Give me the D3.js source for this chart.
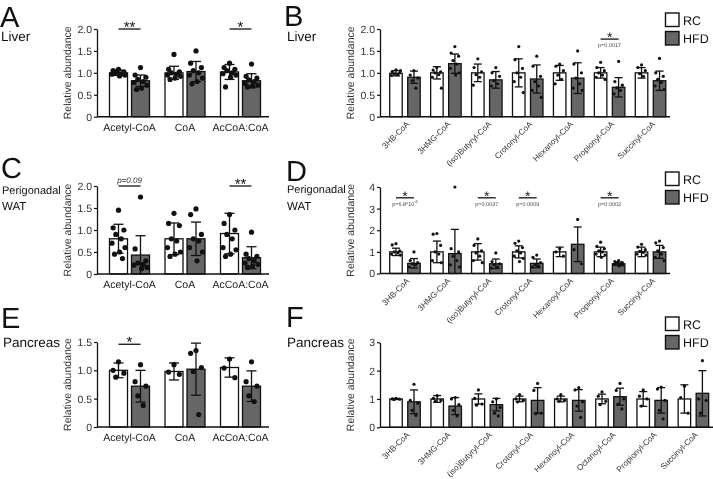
<!DOCTYPE html>
<html><head><meta charset="utf-8">
<script src="https://cdn.jsdelivr.net/npm/d3@7"></script>
<style>
body{margin:0;background:#fff}
svg{display:block;will-change:transform;text-rendering:geometricPrecision}
text{font-family:"Liberation Sans",Arial,Helvetica,sans-serif}
</style>
</head><body>
<svg id="c" width="713" height="479"></svg>
<script>
// ---------------- DATA ----------------
const seriesNames = ["RC", "HFD"];
const catsAC = ["Acetyl-CoA", "CoA", "AcCoA:CoA"];
const catsBD = ["3HB-CoA", "3HMG-CoA", "(iso)Butyryl-CoA", "Crotonyl-CoA", "Hexanoyl-CoA", "Propionyl-CoA", "Succinyl-CoA"];
const catsF = ["3HB-CoA", "3HMG-CoA", "(iso)Butyryl-CoA", "Crotonyl-CoA", "Hexanoyl-CoA", "Octanoyl-CoA", "Propionyl-CoA", "Succinyl-CoA"];

const ticksA = [0, 0.5, 1, 1.5, 2];   const tickLabelsA = ["0", "0.5", "1.0", "1.5", "2.0"];
const ticksB = [0, 0.5, 1, 1.5, 2];   const tickLabelsB = ["0", "0.5", "1.0", "1.5", "2.0"];
const ticksC = [0, 0.5, 1, 1.5, 2];   const tickLabelsC = ["0", "0.5", "1.0", "1.5", "2.0"];
const ticksD = [0, 1, 2, 3, 4];       const tickLabelsD = ["0", "1", "2", "3", "4"];
const ticksE = [0, 0.5, 1, 1.5];      const tickLabelsE = ["0", "0.5", "1.0", "1.5"];
const ticksF = [0, 1, 2, 3];          const tickLabelsF = ["0", "1", "2", "3"];

// Panel A - Liver
const aRcMean = [1.0, 1.0, 1.02];
const aRcSd = [0.06, 0.15, 0.17];
const aHfdMean = [0.82, 1.03, 0.82];
const aHfdSd = [0.13, 0.23, 0.16];
const aRcPts = [[1.08,1.05,1.02,1.0,0.98,0.97,0.95,0.93,1.03],[1.42,1.08,1.02,1.0,0.97,0.95,0.92,0.88,0.85],[1.22,1.12,1.08,1.05,1.0,0.98,0.95,0.9,0.68]];
const aHfdPts = [[1.12,0.95,0.9,0.85,0.8,0.78,0.72,0.65,0.62],[1.5,1.22,1.12,1.05,1.0,0.95,0.88,0.8,0.75],[1.2,0.92,0.88,0.84,0.8,0.76,0.72,0.7,0.68]];
const aSig = [{cat:"Acetyl-CoA", mark:"**", at:2.0, p:""}, {cat:"AcCoA:CoA", mark:"*", at:2.0, p:""}];

// Panel B - Liver
const bRcMean = [0.99, 1.0, 1.0, 1.0, 1.0, 1.0, 1.0];
const bRcSd = [0.06, 0.14, 0.2, 0.32, 0.17, 0.12, 0.12];
const bHfdMean = [0.9, 1.21, 0.84, 0.86, 0.88, 0.67, 0.82];
const bHfdSd = [0.14, 0.22, 0.19, 0.32, 0.35, 0.22, 0.22];
const bRcPts = [[1.07,1.03,1.0,0.98,0.96,0.94,1.05],[1.12,1.06,1.02,1.0,0.96,0.9,0.65],[1.32,1.12,1.02,0.96,0.9,0.72],[1.6,1.3,1.1,1.0,0.9,0.8,0.55],[1.2,1.15,1.05,0.95,0.85,0.75],[1.24,1.12,1.05,1.0,0.95,0.9,0.85],[1.18,1.12,1.05,0.98,0.92]];
const bHfdPts = [[1.05,0.95,0.88,0.82,0.65],[1.6,1.45,1.38,1.28,1.2,1.1,1.0,0.95],[1.12,1.0,0.92,0.82,0.75,0.7],[1.38,1.15,0.92,0.8,0.7,0.6,0.44],[1.5,1.2,1.0,0.88,0.75,0.65,0.6],[1.26,0.8,0.72,0.66,0.6,0.52],[1.33,1.0,0.92,0.85,0.78,0.7,0.62]];
const bSig = [{cat:"Propionyl-CoA", mark:"*", at:1.77, p:"p=0.0017"}];

// Panel C - Perigonadal WAT
const cRcMean = [0.8, 0.8, 0.92];
const cRcSd = [0.33, 0.36, 0.46];
const cHfdMean = [0.43, 0.8, 0.37];
const cHfdSd = [0.44, 0.38, 0.25];
const cRcPts = [[1.45,1.05,1.0,0.9,0.8,0.7,0.6,0.5,0.45,0.35],[1.38,1.15,1.1,0.8,0.75,0.6,0.5,0.45,0.4],[1.35,1.15,1.0,0.9,0.8,0.6,0.55,0.45,0.4]];
const cHfdPts = [[1.75,0.57,0.3,0.25,0.22,0.2,0.15,0.12],[1.48,1.35,0.9,0.8,0.75,0.6,0.5,0.3],[0.95,0.45,0.4,0.35,0.3,0.25,0.22,0.18,0.15]];
const cSig = [{cat:"Acetyl-CoA", mark:"", at:2.0, p:"p=0.09", italic:true}, {cat:"AcCoA:CoA", mark:"**", at:2.0, p:""}];

// Panel D - Perigonadal WAT
const dRcMean = [1.0, 1.0, 1.0, 1.0, 1.0, 1.0, 1.0];
const dRcSd = [0.17, 0.5, 0.38, 0.28, 0.22, 0.22, 0.22];
const dHfdMean = [0.47, 0.92, 0.45, 0.47, 1.35, 0.45, 1.0];
const dHfdSd = [0.22, 1.12, 0.22, 0.2, 0.8, 0.08, 0.3];
const dRcPts = [[1.38,1.32,1.05,1.0,0.95,0.9,0.85],[1.85,1.82,1.3,1.0,0.9,0.6,0.5],[1.6,1.3,1.05,0.95,0.8,0.6,0.5],[1.5,1.4,1.2,1.05,0.95,0.8,0.7,0.55],[1.15,1.0,0.8],[1.45,1.25,1.15,1.05,1.0,0.9,0.85,0.75],[1.35,1.22,1.1,1.02,0.98,0.9,0.85]];
const dHfdPts = [[1.0,0.6,0.5,0.45,0.4,0.3],[4.0,1.15,1.0,0.8,0.6,0.4,0.3],[0.95,0.55,0.45,0.4,0.3,0.25],[0.85,0.75,0.5,0.4,0.35,0.3],[2.5,1.1,0.45],[0.6,0.55,0.5,0.48,0.45,0.42,0.4,0.35],[1.5,1.42,1.2,1.05,0.9,0.75,0.6]];
const dSig = [{cat:"3HB-CoA", mark:"*", at:3.5, p:"p=6.8*10", sup:"-6"}, {cat:"(iso)Butyryl-CoA", mark:"*", at:3.5, p:"p=0.0037"}, {cat:"Crotonyl-CoA", mark:"*", at:3.5, p:"p=0.0009"}, {cat:"Propionyl-CoA", mark:"*", at:3.5, p:"p=0.0002"}];

// Panel E - Pancreas
const eRcMean = [1.0, 0.98, 1.05];
const eRcSd = [0.13, 0.15, 0.17];
const eHfdMean = [0.72, 1.02, 0.72];
const eHfdSd = [0.28, 0.46, 0.27];
const eRcPts = [[1.15,1.0,0.95,0.88],[1.1,0.97,0.93],[1.2,1.04,0.87]];
const eHfdPts = [[1.1,0.8,0.72,0.55,0.38],[1.35,1.3,1.05,0.98,0.22],[1.15,0.8,0.72,0.55,0.45]];
const eSig = [{cat:"Acetyl-CoA", mark:"*", at:1.46, p:""}];

// Panel F - Pancreas
const fRcMean = [1.0, 1.0, 1.0, 1.0, 1.0, 1.0, 1.0, 1.0];
const fRcSd = [0.02, 0.12, 0.18, 0.1, 0.1, 0.17, 0.26, 0.5];
const fHfdMean = [0.9, 0.75, 0.8, 0.95, 0.95, 1.08, 0.95, 1.2];
const fHfdSd = [0.42, 0.3, 0.22, 0.45, 0.38, 0.3, 0.45, 0.8];
const fRcPts = [[1.02,1.0,0.99,0.98],[1.12,1.02,0.95,0.92],[1.32,1.02,0.82,0.78],[1.15,1.0,0.95,0.9],[1.15,1.0,0.95,0.92],[1.25,1.1,0.92,0.8],[1.32,1.1,1.0,0.75],[1.45,1.05,0.5]];
const fHfdPts = [[1.52,0.95,0.85,0.6,0.42],[1.05,1.0,0.8,0.6,0.4],[1.0,0.9,0.7,0.5,0.4],[1.55,1.3,0.5,0.48],[1.4,1.32,0.9,0.75,0.35],[1.55,1.3,1.0,0.82,0.65],[1.42,1.35,0.95,0.6,0.3],[2.35,1.0,0.95,0.5]];
const fSig = [];

// ---------------- DRAW ----------------
const svg = d3.select("#c");
const HFD_FILL = "#666666";
const jit = [0, -0.3, 0.3, -0.15, 0.15, -0.36, 0.36, 0.06, -0.22, 0.22];
const FONT = '"Liberation Sans",Arial,sans-serif';

function panel(cfg) {
  const g = svg.append("g");
  const x = d3.scaleBand().domain(cfg.cats).range(cfg.xr).padding(0);
  const y = d3.scaleLinear().domain([0, cfg.ticks[cfg.ticks.length - 1]]).range([cfg.y0, cfg.y1]);
  const bw = cfg.bw, gap = cfg.gap;
  const series = [
    {mean: cfg.rcMean, sd: cfg.rcSd, pts: cfg.rcPts, fill: "#fff", side: -1},
    {mean: cfg.hfdMean, sd: cfg.hfdSd, pts: cfg.hfdPts, fill: HFD_FILL, side: 1}
  ];
  cfg.cats.forEach((c, i) => {
    const cx = x(c) + x.bandwidth() / 2;
    series.forEach(s => {
      const x0 = s.side < 0 ? cx - gap / 2 - bw : cx + gap / 2;
      const bc = x0 + bw / 2;
      const m = s.mean[i];
      g.append("rect").attr("x", x0).attr("y", y(m)).attr("width", bw).attr("height", y(0) - y(m))
        .attr("fill", s.fill).attr("stroke", "#111").attr("stroke-width", 1.3);
      const lo = Math.max(0, m - s.sd[i]), hi = m + s.sd[i];
      g.append("line").attr("x1", bc).attr("x2", bc).attr("y1", y(lo)).attr("y2", y(hi)).attr("stroke", "#111").attr("stroke-width", 1.3);
      [lo, hi].forEach(v => {
        if (v <= 0) return;
        g.append("line").attr("x1", bc - cfg.cap / 2).attr("x2", bc + cfg.cap / 2).attr("y1", y(v)).attr("y2", y(v)).attr("stroke", "#111").attr("stroke-width", 1.3);
      });
      s.pts[i].forEach((v, k) => {
        g.append("circle").attr("cx", bc + jit[k % jit.length] * bw).attr("cy", y(v)).attr("r", cfg.r).attr("fill", "#111");
      });
    });
  });
  // y axis
  const ya = d3.axisLeft(y).tickValues(cfg.ticks).tickSize(3).tickSizeOuter(0).tickPadding(2)
    .tickFormat((d, i) => cfg.tickLabels[i]);
  const yg = g.append("g").attr("transform", `translate(${cfg.ax},0)`).call(ya);
  yg.select(".domain").attr("stroke", "#111").attr("stroke-width", 1.3);
  yg.selectAll(".tick line").attr("stroke", "#111").attr("stroke-width", 1.2);
  yg.selectAll(".tick text").attr("font-size", 10.5).attr("fill", "#333").style("font-family", FONT);
  // x axis line
  g.append("line").attr("x1", cfg.ax).attr("x2", cfg.xEnd).attr("y1", y(0)).attr("y2", y(0)).attr("stroke", "#111").attr("stroke-width", 1.5);
  // category labels
  const xa = d3.axisBottom(x).tickSize(0).tickPadding(0);
  const xg = g.append("g").attr("transform", `translate(0,${y(0)})`).call(xa);
  xg.select(".domain").remove();
  if (cfg.rotate) {
    xg.selectAll(".tick text").attr("font-size", 8.2).attr("fill", "#333").attr("text-anchor", "end")
      .attr("y", 0).attr("dy", 0)
      .attr("transform", "translate(5,8) rotate(-45)")
      .style("font-family", FONT);
  } else {
    xg.selectAll(".tick text").attr("font-size", 10.5).attr("fill", "#222").attr("y", 14).attr("dy", 0)
      .style("font-family", FONT);
  }
  // y label
  g.append("text").attr("transform", `translate(${cfg.ax - 26},${(y(0) + y(cfg.ticks[cfg.ticks.length-1])) / 2}) rotate(-90)`)
    .attr("text-anchor", "middle").attr("font-size", 10.5).attr("fill", "#333").text("Relative abundance");
  // significance
  cfg.sig.forEach(s => {
    const cx = x(s.cat) + x.bandwidth() / 2;
    const x1 = cx - gap / 2 - bw / 2, x2 = cx + gap / 2 + bw / 2;
    const ly = y(s.at);
    g.append("line").attr("x1", x1).attr("x2", x2).attr("y1", ly).attr("y2", ly).attr("stroke", "#111").attr("stroke-width", 1.3);
    if (s.mark) {
      g.append("text").attr("x", cx).attr("y", ly + 3).attr("text-anchor", "middle").attr("font-size", cfg.starSize).attr("fill", "#111").text(s.mark);
    }
    if (s.p) {
      if (s.italic) {
        g.append("text").attr("x", cx).attr("y", ly - 3).attr("text-anchor", "middle").attr("font-size", 8).attr("font-style", "italic").attr("fill", "#333").text(s.p);
      } else {
        const t = g.append("text").attr("x", cx).attr("y", ly + 8).attr("text-anchor", "middle").attr("font-size", 5.5).attr("fill", "#444").text(s.p);
        if (s.sup) t.append("tspan").attr("dy", -2.5).attr("font-size", 3.8).text(s.sup);
      }
    }
  });
  // legend
  if (cfg.legendY !== undefined) {
    seriesNames.forEach((n, k) => {
      const ty = cfg.legendY + k * 18.5;
      g.append("rect").attr("x", 665.5).attr("y", ty).attr("width", 13.5).attr("height", 13.5)
        .attr("fill", k === 0 ? "#fff" : HFD_FILL).attr("stroke", "#111").attr("stroke-width", 1.4);
      g.append("text").attr("x", 683).attr("y", ty + 11.5).attr("font-size", 12.5).attr("fill", "#111").text(n);
    });
  }
}

const L = {bw: 18, gap: 4, cap: 10, r: 2.6, starSize: 15, rotate: false, ax: 97};
const R = {bw: 12.5, gap: 5.5, cap: 8, r: 1.6, starSize: 14, rotate: true, ax: 380};

panel(Object.assign({}, L, {cats: catsAC, xr: [101.75, 268.25], xEnd: 269, y0: 116.7, y1: 29, ticks: ticksA, tickLabels: tickLabelsA,
  rcMean: aRcMean, rcSd: aRcSd, hfdMean: aHfdMean, hfdSd: aHfdSd, rcPts: aRcPts, hfdPts: aHfdPts, sig: aSig}));
panel(Object.assign({}, R, {cats: catsBD, xr: [384.5, 671], xEnd: 670, y0: 116.7, y1: 29, ticks: ticksB, tickLabels: tickLabelsB,
  rcMean: bRcMean, rcSd: bRcSd, hfdMean: bHfdMean, hfdSd: bHfdSd, rcPts: bRcPts, hfdPts: bHfdPts, sig: bSig, legendY: 13}));
panel(Object.assign({}, L, {cats: catsAC, xr: [101.75, 268.25], xEnd: 269, y0: 274, y1: 186, ticks: ticksC, tickLabels: tickLabelsC,
  rcMean: cRcMean, rcSd: cRcSd, hfdMean: cHfdMean, hfdSd: cHfdSd, rcPts: cRcPts, hfdPts: cHfdPts, sig: cSig}));
panel(Object.assign({}, R, {cats: catsBD, xr: [384.5, 671], xEnd: 670, y0: 273.5, y1: 187, ticks: ticksD, tickLabels: tickLabelsD,
  rcMean: dRcMean, rcSd: dRcSd, hfdMean: dHfdMean, hfdSd: dHfdSd, rcPts: dRcPts, hfdPts: dHfdPts, sig: dSig, legendY: 172}));
panel(Object.assign({}, L, {cats: catsAC, xr: [101.75, 268.25], xEnd: 269, y0: 427, y1: 342, ticks: ticksE, tickLabels: tickLabelsE,
  rcMean: eRcMean, rcSd: eRcSd, hfdMean: eHfdMean, hfdSd: eHfdSd, rcPts: eRcPts, hfdPts: eHfdPts, sig: eSig}));
panel(Object.assign({}, R, {cats: catsF, xr: [384.4, 714], xEnd: 713, y0: 427.3, y1: 342.3, ticks: ticksF, tickLabels: tickLabelsF,
  rcMean: fRcMean, rcSd: fRcSd, hfdMean: fHfdMean, hfdSd: fHfdSd, rcPts: fRcPts, hfdPts: fHfdPts, sig: fSig, legendY: 317}));

// panel letters and tissue names
const labels = [
  {t: "A", x: 0, y: 27, s: 29}, {t: "Liver", x: 1, y: 41, s: 13.5},
  {t: "B", x: 284, y: 26, s: 29}, {t: "Liver", x: 287, y: 41, s: 13.5},
  {t: "C", x: 1, y: 178, s: 29}, {t: "Perigonadal", x: 2, y: 194, s: 11}, {t: "WAT", x: 2, y: 210, s: 11.5},
  {t: "D", x: 286, y: 181, s: 29}, {t: "Perigonadal", x: 287, y: 193, s: 11}, {t: "WAT", x: 287, y: 210, s: 11.5},
  {t: "E", x: 1, y: 328, s: 29}, {t: "Pancreas", x: 3, y: 347, s: 13.5},
  {t: "F", x: 286, y: 327, s: 29}, {t: "Pancreas", x: 287, y: 347, s: 13.5}
];
svg.selectAll("text.lbl").data(labels).enter().append("text").attr("class", "lbl")
  .attr("x", d => d.x).attr("y", d => d.y).attr("font-size", d => d.s).attr("fill", "#111").text(d => d.t);
</script>
</body></html>
